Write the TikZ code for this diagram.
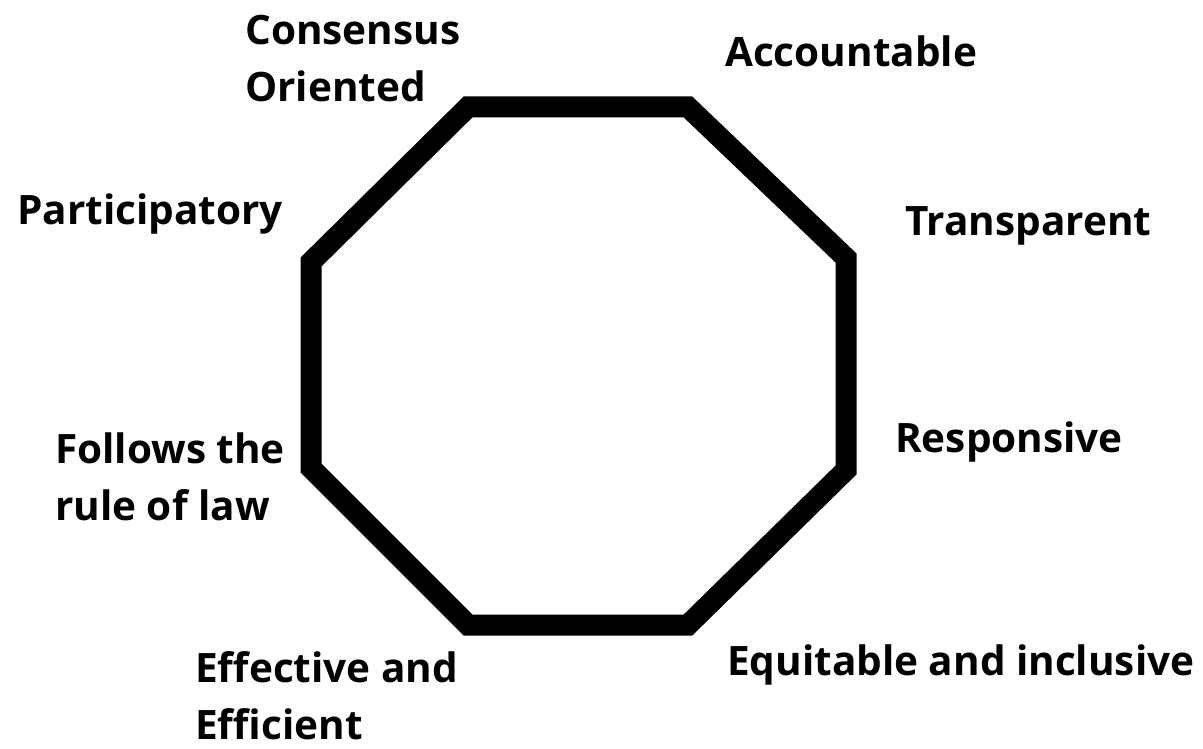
\documentclass[tikz,border=0pt]{standalone}
\usepackage{fontspec}
\setmainfont{Open Sans}
\usepackage{tikz}

\begin{document}
\begin{tikzpicture}[x=1pt,y=-1pt]
        \useasboundingbox (0,0) rectangle (1203,749);
        \coordinate (1) at (468,107);
        \coordinate (2) at (688,107);
        \coordinate (3) at (846,258);
        \coordinate (4) at (846,470);
        \coordinate (5) at (688,625);
        \coordinate (6) at (468,625);
        \coordinate (7) at (311,468);
        \coordinate (8) at (311,262);

        \draw [line width=21pt, line join=miter] (1) -- (2) -- (3) -- (4) -- (5) -- (6) -- (7) -- (8) -- cycle;

        % labels, anchored at the baseline of their last line
        \begin{scope}[every node/.style={anchor=base west, inner sep=0pt, font=\fontsize{40.5}{57}\selectfont\bfseries, align=left}]
            \node (a) at (245,102) {Consensus\\Oriented};
            \node (b) at (725,67) {Accountable};
            \node (c) at (17,225) {Participatory};
            \node (d) at (905,235) {Transparent};
            \node (e) at (895,452) {Responsive};
            \node (f) at (55,520) {Follows the\\rule of law};
            \node (g) at (727,675) {Equitable and inclusive};
            \node (h) at (195,739) {Effective and\\Efficient};
        \end{scope}
    \end{tikzpicture}
\end{document}
